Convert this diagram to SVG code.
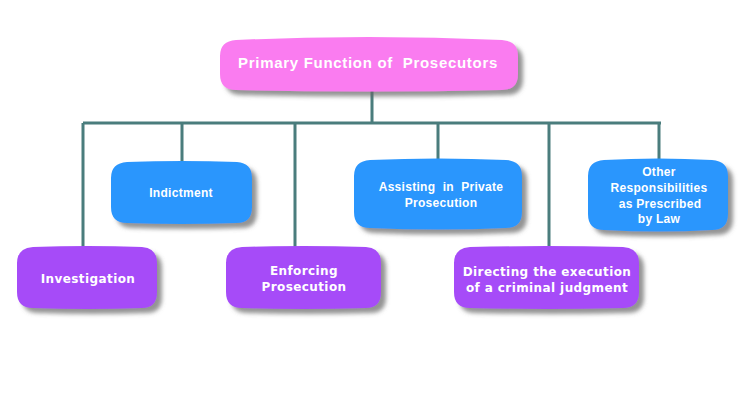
<svg xmlns="http://www.w3.org/2000/svg" width="740" height="400" viewBox="0 0 740 400">
<defs>
<filter id="sh" x="-10%" y="-10%" width="130%" height="140%">
<feDropShadow dx="5" dy="5" stdDeviation="2" flood-color="#666" flood-opacity="0.7"/>
</filter>
<style>
.c{stroke:#4a7d7d;stroke-width:3;fill:none}
.pink{fill:#fa7cf0;filter:url(#sh)}
.blue{fill:#2b96fd;filter:url(#sh)}
.purple{fill:#a64cf8;filter:url(#sh)}
text{white-space:pre}
.t{fill:#fff;font-family:"DejaVu Sans",Verdana,sans-serif;font-weight:bold;font-size:12px;letter-spacing:0.4px;text-anchor:middle}
.tb{fill:#fff;font-family:"Liberation Sans",Arial,sans-serif;font-weight:bold;font-size:12px;letter-spacing:0.3px;text-anchor:middle}
.tt{fill:#fff;font-family:"Liberation Sans",Arial,sans-serif;font-weight:bold;font-size:15px;letter-spacing:0.7px;text-anchor:middle}
</style>
</defs>
<rect width="740" height="400" fill="#fff"/>
<g id="connectors">
<path class="c" d="M372 90V123M83 123H661M83 123V247M182 123V162M295 123V247M438 123V160M549 123V247M659 123V160"/>
</g>
<g id="root">
<path class="pink" d="M236 40Q368 34 502 40Q518 41 518 56V74Q518 90 502 90Q368 93 236 90Q220 90 220 74V56Q220 41 236 40Z"/>
<text class="tt" x="368" y="68" xml:space="preserve">Primary Function of  Prosecutors</text>
</g>
<g id="indictment">
<path class="blue" d="M127 162Q182 160 237 162Q252 163 252 178V207Q252 223 237 223Q182 225 127 223Q111 223 111 207V178Q111 163 127 162Z"/>
<text class="tb" x="181" y="197">Indictment</text>
</g>
<g id="investigation">
<path class="purple" d="M33 247Q88 245 142 247Q157 248 157 263V292Q157 308 142 308Q88 310 33 308Q17 308 17 292V263Q17 248 33 247Z"/>
<text class="t" x="88" y="283">Investigation</text>
</g>
<g id="enforcing">
<path class="purple" d="M242 247Q304 245 366 247Q381 248 381 263V292Q381 308 366 308Q304 310 242 308Q226 308 226 292V263Q226 248 242 247Z"/>
<text class="t" x="304" y="275">Enforcing</text>
<text class="t" x="304" y="291">Prosecution</text>
</g>
<g id="assisting">
<path class="blue" d="M370 160Q438 157 506 160Q522 161 522 176V212Q522 228 506 228Q438 231 370 228Q354 228 354 212V176Q354 161 370 160Z"/>
<text class="tb" x="441" y="191" xml:space="preserve">Assisting  in  Private</text>
<text class="tb" x="441" y="207">Prosecution</text>
</g>
<g id="other">
<path class="blue" d="M604 160Q658 157 712 160Q728 161 728 176V214Q728 230 712 230Q658 233 604 230Q588 230 588 214V176Q588 161 604 160Z"/>
<text class="tb" x="659" y="176">Other</text>
<text class="tb" x="659" y="192">Responsibilities</text>
<text class="tb" x="660" y="208">as Prescribed</text>
<text class="tb" x="659" y="223">by Law</text>
</g>
<g id="directing">
<path class="purple" d="M470 247Q546 245 623 247Q639 248 639 263V292Q639 308 623 308Q546 310 470 308Q454 308 454 292V263Q454 248 470 247Z"/>
<text class="t" x="547" y="276">Directing the execution</text>
<text class="t" x="547" y="292">of a criminal judgment</text>
</g>
</svg>
